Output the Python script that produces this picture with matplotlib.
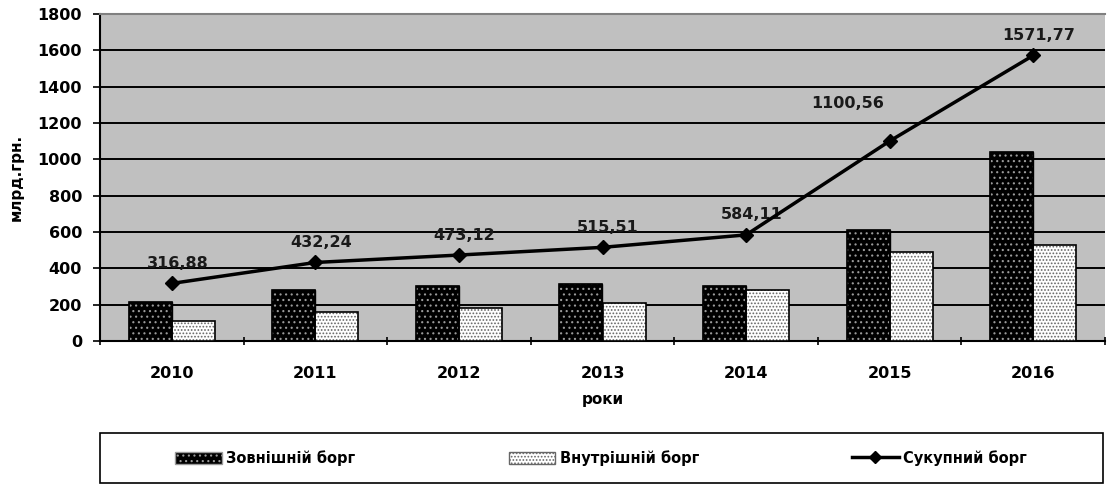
import numpy as np
import matplotlib.pyplot as plt
from matplotlib.patches import Patch, Rectangle
from matplotlib.lines import Line2D

# --- дані ---
years = ['2010', '2011', '2012', '2013', '2014', '2015', '2016']
external_debt = [212, 282, 302, 312, 305, 612, 1042]
internal_debt = [108, 158, 180, 208, 282, 490, 530]
total_debt = [316.88, 432.24, 473.12, 515.51, 584.11, 1100.56, 1571.77]
total_labels = ['316,88', '432,24', '473,12', '515,51', '584,11', '1100,56', '1571,77']

plt.rcParams['font.family'] = ['DejaVu Sans']
plt.rcParams['hatch.linewidth'] = 0.8

fig = plt.figure(figsize=(11.18, 4.84), dpi=100)
ax = fig.add_axes([100 / 1118, 1 - 341 / 484, 1005 / 1118, 327 / 484])
ax.set_facecolor('#C0C0C0')

x = np.arange(len(years))
w = 0.30

# зовнішній борг: чорний з білими крапками
ax.bar(x - w / 2, external_debt, w, color='black', edgecolor='black', zorder=3)
ax.bar(x - w / 2, external_debt, w, facecolor='none', edgecolor='#9a9a9a',
       hatch='...', linewidth=0, zorder=4)
ax.bar(x - w / 2, external_debt, w, facecolor='none', edgecolor='black',
       linewidth=1.2, zorder=5)

# внутрішній борг: білий з сірими крапками
ax.bar(x + w / 2, internal_debt, w, color='white', edgecolor='#666666',
       hatch='.....', linewidth=0, zorder=3)
ax.bar(x + w / 2, internal_debt, w, facecolor='none', edgecolor='black',
       linewidth=1.2, zorder=5)

# сукупний борг
ax.plot(x, total_debt, color='black', linewidth=2.5, marker='D',
        markersize=7, zorder=7)

offsets = [(4, 9), (4, 9), (4, 9), (4, 9), (4, 9), (-30, 22), (4, 9)]
for xi, yi, lab, off in zip(x, total_debt, total_labels, offsets):
    ax.annotate(lab, (xi, yi), xytext=off, textcoords='offset points',
                ha='center', va='bottom', fontsize=11.5, fontweight='bold',
                color='#1a1a1a', zorder=6)

ax.set_ylim(0, 1800)
ax.set_xlim(-0.5, len(years) - 0.5)
ax.set_yticks(np.arange(0, 1801, 200))
ax.yaxis.grid(True, color='black', linewidth=1.4, zorder=1)
ax.set_axisbelow(True)

ax.set_xticks(x)
ax.set_xticklabels(years, fontsize=11.5, fontweight='bold')
ax.set_xticks(np.arange(-0.5, len(years)), minor=True)
ax.tick_params(axis='x', which='major', length=0, pad=18)
ax.tick_params(axis='x', which='minor', length=6, width=1.2, direction='inout')
ax.tick_params(axis='y', length=5, width=1.2, labelsize=11.5, pad=8)
for lab in ax.get_yticklabels():
    lab.set_fontweight('bold')

ax.spines['left'].set_linewidth(1.5)
ax.spines['bottom'].set_linewidth(1.5)
ax.spines['top'].set_color('#808080')
ax.spines['top'].set_linewidth(1.5)
ax.spines['right'].set_visible(False)

ax.set_xlabel('роки', fontsize=11, fontweight='bold', labelpad=8)
ax.set_ylabel('млрд.грн.', fontsize=11, fontweight='bold', labelpad=10)

# легенда
fig.patches.append(Rectangle((100 / 1118, 1 - 483 / 484), 1003 / 1118, 50 / 484,
                             transform=fig.transFigure, facecolor='white',
                             edgecolor='black', linewidth=1.2))
ext_patch = Patch(facecolor='black', edgecolor='#9a9a9a', hatch='...', label='Зовнішній борг')
int_patch = Patch(facecolor='white', edgecolor='#666666', hatch='.....', label='Внутрішній борг')
tot_line = Line2D([], [], color='black', linewidth=2.5, marker='D', markersize=6,
                  label='Сукупний борг')
leg = fig.legend(handles=[ext_patch, int_patch, tot_line], ncol=3,
                 loc='center', bbox_to_anchor=(601 / 1118, 1 - 458 / 484),
                 frameon=False, prop={'weight': 'bold', 'size': 10.5},
                 handlelength=3.2, handleheight=0.9, handletextpad=0.3,
                 columnspacing=10.5)

fig.savefig('out.png', dpi=100)
